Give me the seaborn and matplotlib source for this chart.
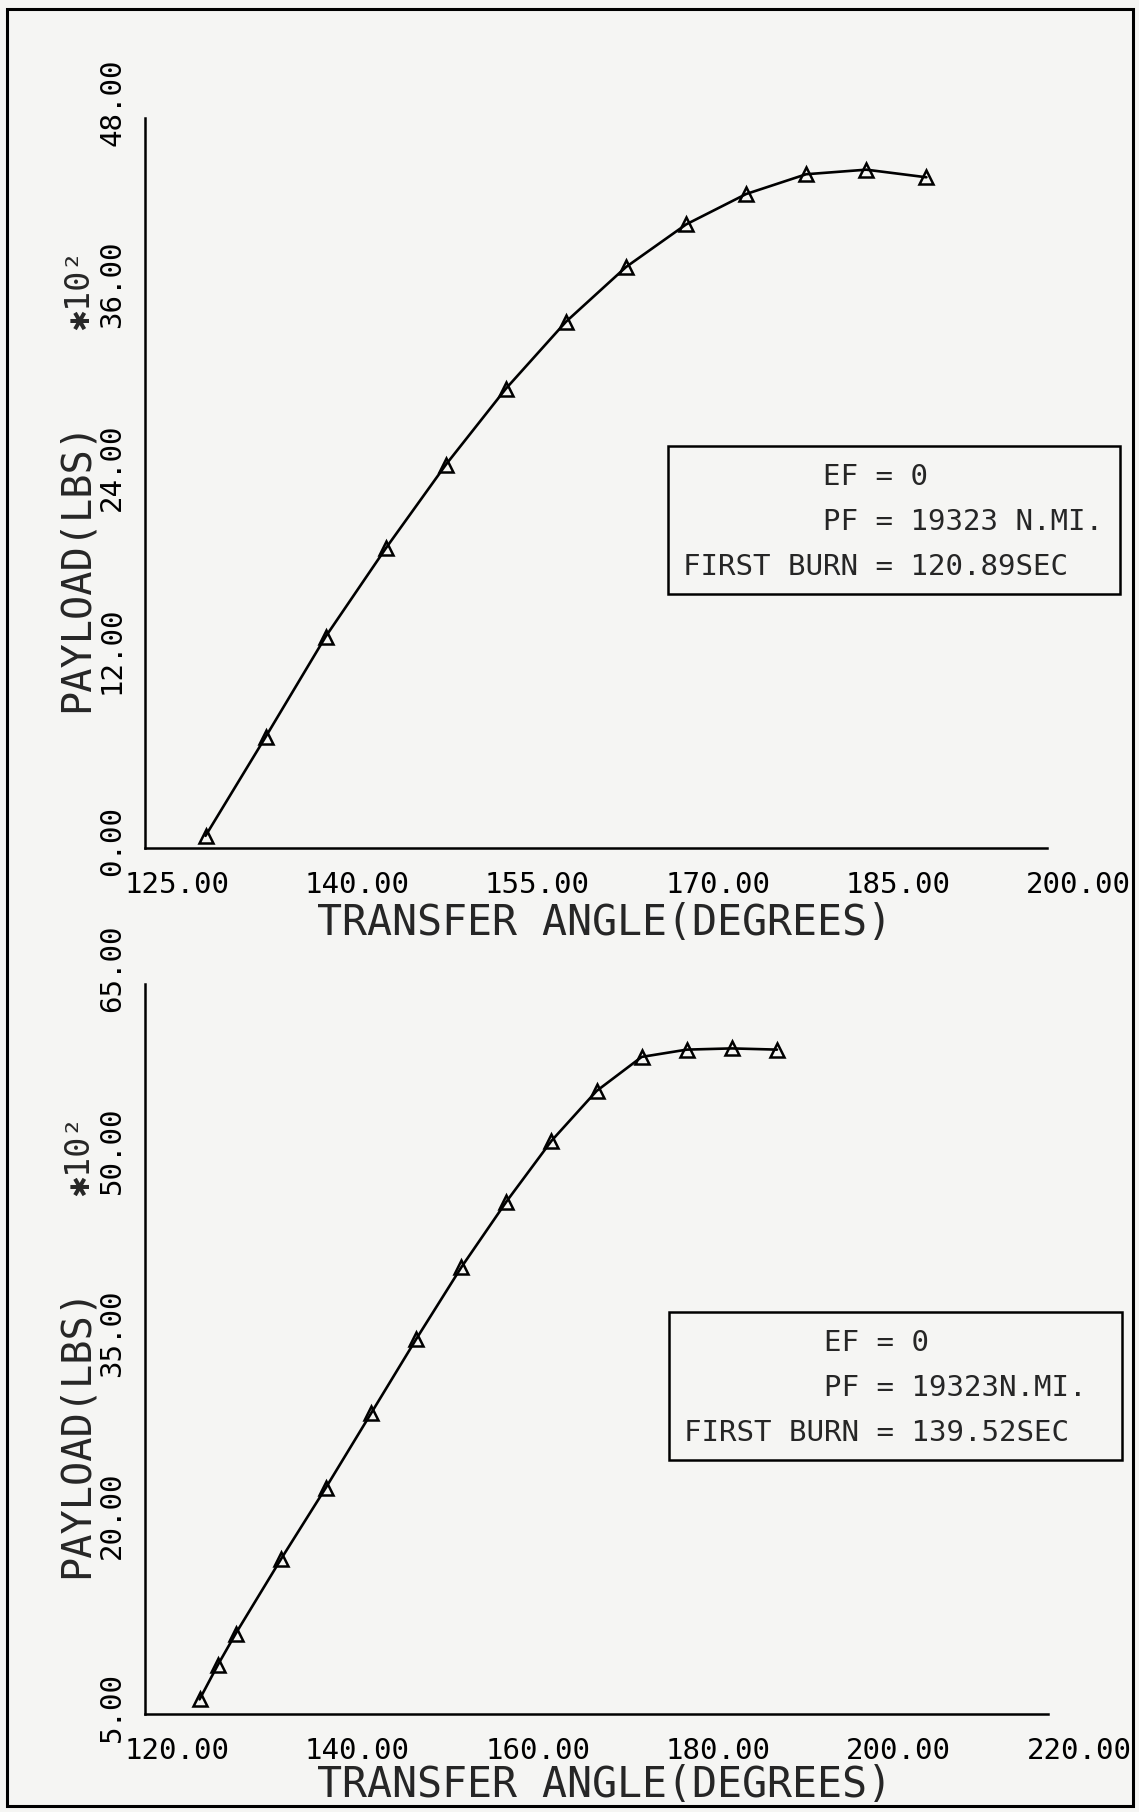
import matplotlib
matplotlib.use("Agg")
import matplotlib.pyplot as plt
import seaborn as sns
import pandas as pd
from matplotlib.patches import Rectangle
from matplotlib.transforms import ScaledTranslation

# upper panel (first burn 120.89 sec)
top_angle = [130, 135, 140, 145, 150, 155, 160, 165, 170, 175, 180, 185, 190]
top_payload = [0.8, 7.3, 13.9, 19.7, 25.2, 30.2, 34.6, 38.2, 41.0, 43.0, 44.3, 44.6, 44.1]
top_xticks = [125, 140, 155, 170, 185, 200]
top_yticks = [0, 12, 24, 36, 48]
top_note = [("EF", "0"), ("PF", "19323 N.MI."), ("FIRST BURN", "120.89SEC")]

# lower panel (first burn 139.52 sec)
bot_angle = [126, 128, 130, 135, 140, 145, 150, 155, 160, 165, 170, 175, 180, 185, 190]
bot_payload = [6.2, 9.0, 11.6, 17.7, 23.6, 29.7, 35.8, 41.7, 47.1, 52.1, 56.2, 59.0, 59.6, 59.7, 59.6]
bot_xticks = [120, 140, 160, 180, 200, 220]
bot_yticks = [5, 20, 35, 50, 65]
bot_note = [("EF", "0"), ("PF", "19323N.MI."), ("FIRST BURN", "139.52SEC")]

PAPER = "#f5f5f3"
DPI = 100

sns.set_style("white")
plt.rcParams["font.family"] = ["DejaVu Sans Mono", "DejaVu Sans"]


def draw_panel(fig, rect, angle, payload, xticks, yticks, note, xlabel_y):
    ax = fig.add_axes(rect)
    ax.set_facecolor(PAPER)
    df = pd.DataFrame({"angle": angle, "payload": payload})
    sns.lineplot(data=df, x="angle", y="payload", ax=ax, color="black", lw=1.9,
                 marker="^", markersize=10, markerfacecolor="none",
                 markeredgecolor="black", markeredgewidth=1.8, clip_on=False)
    ax.set_xlim(xticks[0], xticks[-1])
    ax.set_ylim(yticks[0], yticks[-1])
    sns.despine(ax=ax)
    for s in ("left", "bottom"):
        ax.spines[s].set_linewidth(1.8)
        ax.spines[s].set_color("black")

    ax.set_xticks(xticks)
    ax.set_xticklabels([f"{v:.2f}" for v in xticks])
    ax.set_yticks(yticks)
    ax.set_yticklabels([f"{v:.2f}" for v in yticks])
    ax.tick_params(axis="x", direction="out", length=8.5, width=1.5, pad=8,
                   labelsize=21, colors="black")
    ax.tick_params(axis="y", direction="out", length=7, width=1.5, pad=7,
                   labelsize=21, colors="black", labelrotation=90)

    # plotter style: labels start a little before the tick
    dx = ScaledTranslation(-21 / DPI, 0, fig.dpi_scale_trans)
    for lab in ax.get_xticklabels():
        lab.set_horizontalalignment("left")
        lab.set_transform(lab.get_transform() + dx)
    dy = ScaledTranslation(0, -28 / DPI, fig.dpi_scale_trans)
    for lab in ax.get_yticklabels():
        lab.set_verticalalignment("bottom")
        lab.set_horizontalalignment("right")
        lab.set_transform(lab.get_transform() + dy)

    ax.set_xlabel("TRANSFER ANGLE(DEGREES)", fontsize=30)
    ax.xaxis.set_label_coords(0.509, xlabel_y)
    ax.set_ylabel("")
    ax.text(-0.0766, 0.385, "PAYLOAD(LBS)", transform=ax.transAxes, rotation=90,
            ha="center", va="center", fontsize=29)
    ax.text(-0.0727, 0.765, "✱10²", transform=ax.transAxes, rotation=90,
            ha="center", va="center", fontsize=24)

    # parameter box
    ax.add_patch(Rectangle((0.58, 0.348), 0.502, 0.202, transform=ax.transAxes,
                           fill=False, ec="black", lw=1.8, clip_on=False))
    for (key, val), yy in zip(note, [0.508, 0.446, 0.385]):
        ax.text(0.5966, yy, f"{key:>10} = {val}", transform=ax.transAxes,
                ha="left", va="center", fontsize=21)
    return ax


fig = plt.figure(figsize=(11.39, 18.12), dpi=DPI)
fig.patch.set_facecolor(PAPER)

draw_panel(fig, [0.1277, 0.532, 0.7911, 0.4029], top_angle, top_payload,
           top_xticks, top_yticks, top_note, -0.074)
draw_panel(fig, [0.1277, 0.0541, 0.7921, 0.4029], bot_angle, bot_payload,
           bot_xticks, bot_yticks, bot_note, -0.068)

# page frame
fig.add_artist(Rectangle((7 / 1139, 6 / 1812), 1126 / 1139, 1797 / 1812,
                         transform=fig.transFigure, fill=False, ec="black", lw=2.2))

fig.savefig("out.png", dpi=DPI, facecolor=PAPER)
